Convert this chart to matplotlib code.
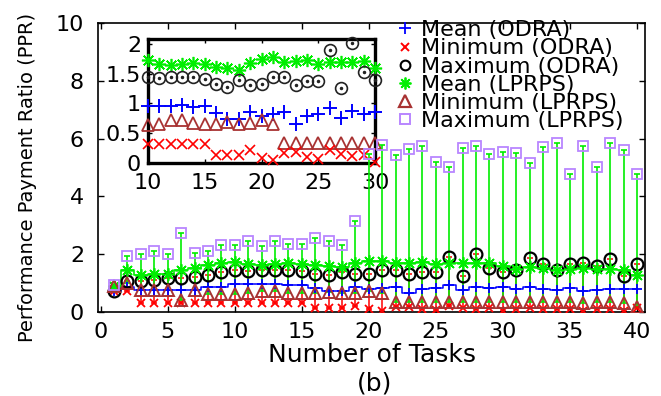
import matplotlib
matplotlib.use("Agg")
import matplotlib.pyplot as plt
import numpy as np
from matplotlib.lines import Line2D

# ---------------- data ----------------
tasks = list(range(1, 41))

mean_odra = [0.72, 0.85, 0.75, 0.75, 0.75, 0.75, 0.76, 0.87, 0.88,
             0.96, 0.96, 0.96, 0.98, 0.94, 0.95, 0.84, 0.74, 0.74, 0.86, 0.78,
             0.82, 0.85, 0.66, 0.79, 0.83, 0.93, 0.76, 0.88, 0.83, 0.85,
             0.80, 0.88, 0.80, 0.75, 0.83, 0.71, 0.75, 0.78, 0.78, 0.78]
min_odra = [0.72, 0.74, 0.30, 0.30, 0.30, 0.30, 0.30, 0.30, 0.30,
            0.32, 0.32, 0.32, 0.32, 0.32, 0.32,
            0.14, 0.14, 0.14, 0.21, 0.09, 0.05, 0.16, 0.19, 0.10, 0.06,
            0.21, 0.15, 0.11, 0.14, 0.02,
            0.12, 0.14, 0.12, 0.10, 0.12, 0.03, 0.12, 0.12, 0.03, 0.15]
max_odra = [0.72, 1.06, 1.08, 1.12, 1.16, 1.17, 1.21, 1.29, 1.38,
            1.45, 1.42, 1.45, 1.45, 1.44, 1.41, 1.32, 1.28, 1.39, 1.31, 1.33,
            1.45, 1.44, 1.30, 1.37, 1.37, 1.90, 1.25, 2.01, 1.52, 1.39,
            1.44, 1.88, 1.67, 1.46, 1.67, 1.71, 1.58, 1.84, 1.23, 1.67]
mean_lprps = [0.90, 1.44, 1.27, 1.32, 1.32, 1.44, 1.53, 1.61, 1.69,
              1.73, 1.66, 1.64, 1.66, 1.68, 1.66, 1.61, 1.59, 1.56, 1.68, 1.75,
              1.77, 1.70, 1.71, 1.73, 1.66, 1.70, 1.69, 1.69, 1.71, 1.59,
              1.48, 1.55, 1.52, 1.46, 1.50, 1.52, 1.50, 1.50, 1.46, 1.28]
min_lprps = [0.90, 1.00, 0.77, 0.75, 0.77, 0.40, 0.75, 0.63, 0.63,
             0.64, 0.66, 0.72, 0.72, 0.67, 0.65, 0.65, 0.69, 0.65, 0.67, 0.72, 0.66,
             0.33, 0.33, 0.33, 0.33, 0.33, 0.33, 0.33, 0.33, 0.33,
             0.33, 0.33, 0.33, 0.33, 0.33, 0.30, 0.33, 0.33, 0.30, 0.18]
max_lprps = [0.92, 1.93, 2.02, 2.11, 2.02, 2.73, 2.04, 2.11, 2.33,
             2.33, 2.44, 2.30, 2.44, 2.36, 2.36, 2.57, 2.44, 2.33, 3.14, 5.45,
             5.77, 5.42, 5.63, 5.74, 5.19, 5.02, 5.68, 5.75, 5.48, 5.54,
             5.51, 5.14, 5.71, 5.85, 4.77, 5.74, 5.02, 5.86, 5.62, 4.77]

series_labels = ["Mean (ODRA)", "Minimum (ODRA)", "Maximum (ODRA)",
                 "Mean (LPRPS)", "Minimum (LPRPS)", "Maximum (LPRPS)"]

main_xticks = [0, 5, 10, 15, 20, 25, 30, 35, 40]
main_yticks = [0, 2, 4, 6, 8, 10]
inset_xticks = [10, 15, 20, 25, 30]
inset_yticks = [0, 0.5, 1, 1.5, 2]
inset_yticklabels = ["0", "0.5", "1", "1.5", "2"]
inset_range = (10, 30)

# ---------------- style ----------------
BLUE = "#0000ff"
RED = "#ff0000"
BLACK = "#000000"
GREEN = "#00ee00"
BROWN = "#a83232"
PURPLE = "#b986ff"
ASTER = (8, 2, 0)

plt.rcParams["font.family"] = ["DejaVu Sans"]

W, H = 661, 396
fig = plt.figure(figsize=(W / 100, H / 100), dpi=100)

# main axes
L, R, T, B = 98, 645, 23, 312
ax = fig.add_axes([L / W, 1 - B / H, (R - L) / W, (B - T) / H])
# inset axes
iL, iR, iT, iB = 148, 375, 39, 163
axin = fig.add_axes([iL / W, 1 - iB / H, (iR - iL) / W, (iB - iT) / H])
axin.set_zorder(1)
ax.set_zorder(2)
ax.patch.set_visible(False)

x = np.array(tasks, dtype=float)
mo = np.array(mean_odra)
mino = np.array(min_odra)
maxo = np.array(max_odra)
ml = np.array(mean_lprps)
minl = np.array(min_lprps)
maxl = np.array(max_lprps)

# error bars (min..max)
ax.errorbar(x, (mino + maxo) / 2, yerr=(maxo - mino) / 2, fmt="none",
            ecolor=RED, elinewidth=1.1, capsize=2.2, capthick=1.1, zorder=2)
ax.errorbar(x, (minl + maxl) / 2, yerr=(maxl - minl) / 2, fmt="none",
            ecolor=GREEN, elinewidth=1.2, capsize=2.2, capthick=1.2, zorder=2.5)

# mean lines (histeps)
ax.plot(x, mo, color=BLUE, lw=1.1, drawstyle="steps-mid", zorder=3)
ax.plot(x, ml, color=GREEN, lw=1.2, drawstyle="steps-mid", zorder=3)

# markers
ax.plot(x, mo, ls="none", marker="+", ms=7.5, mew=1.3, color=BLUE, zorder=4)
ax.plot(x, mino, ls="none", marker="x", ms=5.5, mew=1.3, color=RED, zorder=4)
ax.plot(x, maxo, ls="none", marker="o", ms=8.5, mfc="none", mec=BLACK, mew=1.6, zorder=4)
ax.plot(x, ml, ls="none", marker=ASTER, ms=9, mew=1.2, color=GREEN, zorder=4)
ax.plot(x, minl, ls="none", marker="^", ms=8, mfc="none", mec=BROWN, mew=1.4, zorder=4)
ax.plot(x, maxl, ls="none", marker="s", ms=6.5, mfc="none", mec=PURPLE, mew=1.3, zorder=4)

ax.set_xlim(-0.2, 40.6)
ax.set_ylim(0, 10)
ax.set_xticks(main_xticks)
ax.set_yticks(main_yticks)
ax.tick_params(direction="in", length=4, width=1, top=True, right=True,
               labelsize=16)
ax.tick_params(axis="x", pad=7)
ax.tick_params(axis="y", pad=10)
for s in ax.spines.values():
    s.set_linewidth(1.2)

ax.set_xlabel("Number of Tasks", fontsize=18)
ax.xaxis.set_label_coords(0.5, -0.106)
ax.set_ylabel("Performance Payment Ratio (PPR)", fontsize=14)
ax.yaxis.set_label_coords(-0.112, 0.464)
fig.text(375 / W, 1 - 383 / H, "(b)", fontsize=18, ha="center", va="center")

# legend
handles = [
    Line2D([], [], ls="none", marker="+", ms=8.5, mew=1.3, color=BLUE),
    Line2D([], [], ls="none", marker="x", ms=5.5, mew=1.4, color=RED),
    Line2D([], [], ls="none", marker="o", ms=7, mfc="none", mec=BLACK, mew=1.5),
    Line2D([], [], ls="none", marker=ASTER, ms=8.5, mew=1.3, color=GREEN),
    Line2D([], [], ls="none", marker="^", ms=8, mfc="none", mec=BROWN, mew=1.6),
    Line2D([], [], ls="none", marker="s", ms=6.5, mfc="none", mec=PURPLE, mew=1.4),
]
ax.legend(handles, series_labels, loc="upper left", bbox_to_anchor=(0.541, 1.01),
          frameon=False, fontsize=16, handlelength=1.0, handletextpad=0.2,
          labelspacing=-0.08, borderpad=0, borderaxespad=0)

# ---------------- inset ----------------
lo, hi = inset_range
sel = slice(tasks.index(lo), tasks.index(hi) + 1)
xi = x[sel]
kw = dict(ls="none", clip_on=False)
axin.plot(xi, ml[sel], marker=ASTER, ms=9.5, mew=1.2, color=GREEN, zorder=3, **kw)
axin.plot(xi, maxo[sel], marker="o", ms=8.5, mfc="none", mec="#222222", mew=1.2, zorder=3, **kw)
axin.plot(xi, maxo[sel], marker=".", ms=3, color="#222222", zorder=3, **kw)
axin.plot(xi, mo[sel], marker="+", ms=9.5, mew=1.4, color=BLUE, zorder=3, **kw)
axin.plot(xi, minl[sel], marker="^", ms=8.5, mfc="none", mec=BROWN, mew=1.3, zorder=3, **kw)
axin.plot(xi, mino[sel], marker="x", ms=6.5, mew=1.2, color=RED, zorder=3, **kw)

axin.set_xlim(lo, hi)
axin.set_ylim(0, 2.08)
axin.set_xticks(inset_xticks)
axin.set_yticks(inset_yticks)
axin.set_yticklabels(inset_yticklabels)
axin.tick_params(direction="in", length=3, width=1, top=True, right=True,
                 labelsize=16)
axin.tick_params(axis="x", pad=7)
axin.tick_params(axis="y", pad=5)
for s in axin.spines.values():
    s.set_linewidth(2.4)

fig.savefig("out.png", dpi=100)
